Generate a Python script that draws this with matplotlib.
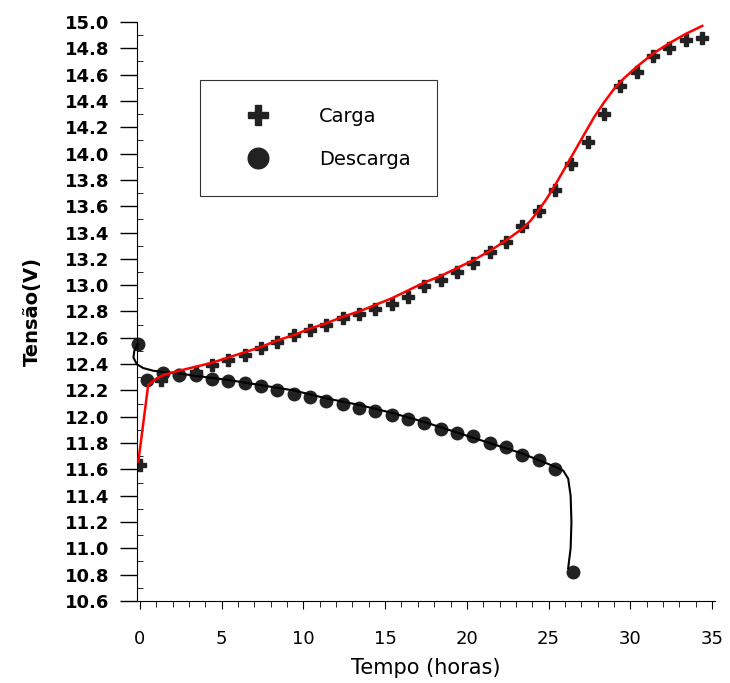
import matplotlib.pyplot as plt
from matplotlib.ticker import MultipleLocator, FormatStrFormatter

plt.rcParams['font.family'] = ['DejaVu Sans']

# Carga (charge) measurements
carga_t = [0, 1.3, 2.4, 3.4, 4.4, 5.4, 6.4, 7.4, 8.4, 9.4, 10.4, 11.4, 12.4, 13.4,
           14.4, 15.4, 16.4, 17.4, 18.4, 19.4, 20.4, 21.4, 22.4, 23.4, 24.4, 25.4,
           26.4, 27.4, 28.4, 29.4, 30.4, 31.4, 32.4, 33.4, 34.4]
carga_v = [11.63, 12.28, 12.32, 12.34, 12.39, 12.43, 12.47, 12.52, 12.57, 12.62,
           12.66, 12.70, 12.75, 12.78, 12.82, 12.86, 12.91, 12.99, 13.04, 13.10,
           13.17, 13.25, 13.33, 13.45, 13.56, 13.72, 13.92, 14.09, 14.30, 14.51,
           14.62, 14.74, 14.80, 14.86, 14.88]

# Descarga (discharge) measurements
descarga_t = [-0.15, 0.4, 1.4, 2.4, 3.4, 4.4, 5.4, 6.4, 7.4, 8.4, 9.4, 10.4, 11.4,
              12.4, 13.4, 14.4, 15.4, 16.4, 17.4, 18.4, 19.4, 20.4, 21.4, 22.4,
              23.4, 24.4, 25.4, 26.5]
descarga_v = [12.55, 12.28, 12.33, 12.32, 12.32, 12.29, 12.27, 12.26, 12.23, 12.20,
              12.17, 12.15, 12.12, 12.10, 12.07, 12.04, 12.01, 11.98, 11.95, 11.91,
              11.88, 11.85, 11.80, 11.77, 11.71, 11.67, 11.60, 10.82]

# fitted curves
fit_carga_t = [-0.1, 0.5, 1.0, 1.5, 2.4, 3.4, 4.4, 5.4, 6.4, 7.4, 8.4, 9.4, 10.4,
               11.4, 12.4, 13.4, 14.4, 15.4, 16.4, 17.4, 18.4, 19.4, 20.4, 21.4,
               22.4, 23.4, 23.9, 24.4, 24.9, 25.4, 26.0, 26.6, 27.2, 27.8, 28.4,
               29.0, 29.6, 30.4, 31.4, 32.4, 33.4, 34.4]
fit_carga_v = [11.66, 12.24, 12.29, 12.32, 12.35, 12.38, 12.41, 12.45, 12.49, 12.53,
               12.58, 12.62, 12.67, 12.71, 12.76, 12.80, 12.85, 12.90, 12.96, 13.02,
               13.07, 13.13, 13.19, 13.26, 13.34, 13.43, 13.49, 13.57, 13.66, 13.76,
               13.89, 14.02, 14.15, 14.28, 14.39, 14.49, 14.57, 14.66, 14.76, 14.84,
               14.91, 14.97]

fit_desc_t = [-0.15, -0.35, -0.4, -0.2, 0.2, 0.8, 1.4, 2.4, 3.4, 5.4, 7.4, 9.4, 11.4,
              13.4, 15.4, 17.4, 19.4, 21.4, 23.4, 25.4, 25.9, 26.2, 26.35, 26.4,
              26.35, 26.2]
fit_desc_v = [12.55, 12.50, 12.45, 12.40, 12.37, 12.35, 12.34, 12.33, 12.31, 12.28,
              12.24, 12.20, 12.14, 12.09, 12.03, 11.96, 11.88, 11.80, 11.72, 11.62,
              11.59, 11.53, 11.40, 11.20, 11.00, 10.85]

fig = plt.figure(figsize=(7.30, 6.83), dpi=100)
ax = fig.add_axes([0.1873, 0.1201, 0.7925, 0.8477])

mk = '#222222'
ax.plot(carga_t, carga_v, 'P', color=mk, markersize=9, label='Carga', zorder=2)
ax.plot(descarga_t, descarga_v, 'o', color=mk, markersize=9, label='Descarga',
        zorder=2, clip_on=False)
ax.plot(fit_desc_t, fit_desc_v, color='black', lw=1.5, zorder=3, clip_on=False)
ax.plot(fit_carga_t, fit_carga_v, color='red', lw=1.8, zorder=4, clip_on=False)

ax.set_xlim(-0.2, 35.2)
ax.set_ylim(10.6, 15.0)
ax.xaxis.set_major_locator(MultipleLocator(5))
ax.xaxis.set_minor_locator(MultipleLocator(1))
ax.yaxis.set_major_locator(MultipleLocator(0.2))
ax.yaxis.set_minor_locator(MultipleLocator(0.1))
ax.yaxis.set_major_formatter(FormatStrFormatter('%.1f'))

ax.spines['top'].set_visible(False)
ax.spines['right'].set_visible(False)
ax.spines['left'].set_linewidth(0.8)
ax.tick_params(axis='y', which='major', direction='out', length=12, width=1,
               labelsize=13, pad=8)
ax.tick_params(axis='y', which='minor', direction='in', length=4)
ax.tick_params(axis='x', which='major', direction='out', length=6, labelsize=13, pad=15)
ax.tick_params(axis='x', which='minor', direction='out', length=4)
for lbl in ax.get_yticklabels():
    lbl.set_fontweight('bold')

ax.set_xlabel('Tempo (horas)', fontsize=15, labelpad=7)
ax.set_ylabel('Tensão(V)', fontsize=14, fontweight='bold', labelpad=16)

leg = ax.legend(loc='upper left', bbox_to_anchor=(0.1094, 0.8998), fontsize=14,
                markerscale=1.65, frameon=True, fancybox=False, edgecolor='black',
                borderpad=1.4, labelspacing=1.2, handlelength=3.2, handletextpad=1.5,
                borderaxespad=0)
leg.get_frame().set_linewidth(0.8)

fig.savefig('out.png', dpi=100)
